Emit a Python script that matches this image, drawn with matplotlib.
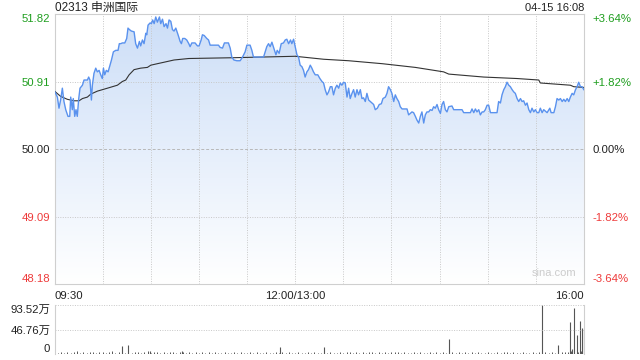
import numpy as np
import matplotlib
matplotlib.use("Agg")
import matplotlib.pyplot as plt
from matplotlib.patches import Polygon

plt.rcParams['font.family'] = ['Liberation Sans', 'Noto Sans CJK SC', 'DejaVu Sans']

# ---- data ----
title = "02313 申洲国际"
stamp = "04-15 16:08"
prev_close = 50.00
price_ticks = [48.18, 49.09, 50.00, 50.91, 51.82]
vol_ticks = [0, 46.76, 93.52]
time_ticks = [0, 150, 330]
time_labels = ["09:30", "12:00/13:00", "16:00"]

# minutes since 09:30 (lunch break removed) and last price
minutes = [
    0.0, 1.8, 2.8, 3.8, 4.9, 5.9, 7.0, 8.4, 9.5, 10.1, 11.1, 11.7, 12.6, 13.4, 14.2,
    15.1, 15.9, 17.4, 18.4, 20.5, 21.3, 22.1, 23.0, 23.6, 24.6, 25.7, 26.7, 27.8,
    28.8, 29.8, 30.5, 31.3, 32.3, 33.4, 34.6, 35.5, 36.7, 38.2, 39.6, 40.4, 41.3,
    42.3, 43.8, 45.0, 45.8, 46.7, 47.9, 49.6, 50.6, 51.7, 52.9, 53.7, 54.8, 55.8,
    56.9, 57.5, 58.3, 59.6, 60.4, 61.2, 62.1, 63.1, 64.1, 65.4, 66.2, 67.3, 68.3,
    69.5, 70.4, 71.4, 72.5, 73.5, 74.5, 75.6, 77.0, 78.3, 79.1, 79.9, 81.2, 82.4,
    83.7, 84.5, 85.6, 87.6, 89.1, 90.1, 91.4, 92.2, 93.3, 94.9, 96.0, 97.0, 99.1,
    102.2, 103.2, 104.7, 105.9, 108.4, 109.5, 110.5, 111.8, 113.6, 115.7, 117.2,
    118.8, 119.9, 121.9, 123.0, 124.0, 127.1, 130.3, 131.3, 132.3, 133.4, 134.4,
    135.5, 136.7, 138.0, 138.8, 140.0, 141.3, 142.7, 143.8, 144.8, 145.9, 147.1,
    147.9, 149.0, 150.0, 151.1, 152.1, 153.1, 154.2, 155.2, 156.2, 157.3, 158.3,
    159.4, 160.4, 161.4, 162.5, 164.1, 165.4, 166.7, 167.7, 168.7, 169.8, 170.8,
    171.9, 172.9, 173.9, 175.0, 176.0, 177.1, 178.1, 179.1, 180.2, 181.2, 182.3,
    183.3, 184.3, 185.4, 186.4, 187.4, 188.5, 189.5, 190.6, 191.6, 192.6, 193.7,
    194.7, 195.8, 196.8, 197.8, 198.9, 199.9, 201.2, 202.4, 203.7, 204.7, 206.2,
    207.2, 208.2, 209.3, 210.3, 211.4, 212.4, 213.4, 214.5, 215.5, 216.6, 218.6,
    219.7, 220.7, 221.8, 222.8, 223.8, 224.9, 225.9, 227.0, 228.0, 229.0, 230.1,
    231.1, 232.1, 233.2, 234.2, 235.3, 236.3, 237.3, 238.4, 239.4, 240.5, 241.5,
    242.5, 243.6, 244.6, 245.7, 247.7, 248.8, 250.9, 254.0, 255.0, 259.2, 260.2,
    261.3, 262.3, 263.3, 264.4, 265.4, 266.5, 267.5, 268.5, 269.6, 270.6, 271.7,
    273.7, 275.8, 276.8, 277.9, 278.9, 280.0, 281.0, 282.0, 283.1, 284.1, 285.2,
    286.2, 287.2, 288.3, 289.3, 290.4, 291.4, 292.4, 293.5, 294.5, 295.6, 296.6,
    297.6, 298.7, 299.7, 300.8, 301.8, 302.8, 303.9, 304.9, 307.0, 308.7, 309.5,
    311.2, 312.2, 313.2, 314.3, 315.3, 316.4, 317.4, 318.4, 319.5, 320.5, 321.5,
    322.6, 323.6, 324.7, 325.7, 326.7, 327.8, 328.8, 329.9,
]
prices = [
    50.78, 50.70, 50.55, 50.66, 50.82, 50.64, 50.53, 50.44, 50.44, 50.70, 50.53,
    50.68, 50.44, 50.53, 50.44, 50.68, 50.82, 50.86, 50.93, 50.93, 50.97, 50.93,
    50.66, 50.86, 51.02, 51.09, 51.04, 51.06, 51.00, 50.95, 51.09, 51.00, 51.06,
    51.04, 51.13, 51.20, 51.31, 51.33, 51.33, 51.42, 51.42, 51.43, 51.43, 51.49,
    51.63, 51.61, 51.59, 51.58, 51.42, 51.36, 51.45, 51.39, 51.47, 51.42, 51.56,
    51.54, 51.67, 51.70, 51.69, 51.74, 51.69, 51.78, 51.71, 51.78, 51.69, 51.75,
    51.65, 51.69, 51.63, 51.74, 51.72, 51.61, 51.59, 51.63, 51.54, 51.45, 51.42,
    51.49, 51.49, 51.47, 51.42, 51.38, 51.43, 51.43, 51.39, 51.39, 51.47, 51.54,
    51.53, 51.49, 51.47, 51.40, 51.40, 51.40, 51.37, 51.36, 51.43, 51.43, 51.36,
    51.24, 51.20, 51.19, 51.19, 51.24, 51.31, 51.40, 51.40, 51.33, 51.24, 51.24,
    51.24, 51.31, 51.38, 51.42, 51.38, 51.44, 51.36, 51.27, 51.33, 51.29, 51.42,
    51.43, 51.47, 51.48, 51.42, 51.47, 51.42, 51.48, 51.38, 51.27, 51.24, 51.13,
    51.11, 51.06, 50.97, 51.04, 51.07, 51.13, 51.09, 51.04, 51.00, 51.00, 50.95,
    50.91, 50.89, 50.80, 50.73, 50.77, 50.84, 50.84, 50.73, 50.82, 50.86, 50.82,
    50.89, 50.86, 50.90, 50.89, 50.70, 50.82, 50.68, 50.75, 50.80, 50.70, 50.80,
    50.73, 50.80, 50.68, 50.69, 50.64, 50.75, 50.66, 50.64, 50.62, 50.60, 50.53,
    50.55, 50.60, 50.61, 50.68, 50.70, 50.75, 50.84, 50.80, 50.75, 50.64, 50.73,
    50.68, 50.64, 50.57, 50.54, 50.54, 50.54, 50.46, 50.48, 50.50, 50.49, 50.44,
    50.39, 50.35, 50.44, 50.50, 50.35, 50.46, 50.50, 50.50, 50.53, 50.52, 50.57,
    50.55, 50.60, 50.53, 50.48, 50.60, 50.64, 50.53, 50.50, 50.57, 50.58, 50.53,
    50.53, 50.53, 50.49, 50.49, 50.54, 50.49, 50.54, 50.50, 50.53, 50.46, 50.50,
    50.50, 50.53, 50.59, 50.59, 50.49, 50.49, 50.49, 50.64, 50.62, 50.73, 50.80,
    50.84, 50.90, 50.86, 50.84, 50.80, 50.77, 50.75, 50.68, 50.64, 50.68, 50.64,
    50.65, 50.59, 50.62, 50.53, 50.49, 50.55, 50.50, 50.53, 50.49, 50.49, 50.55,
    50.49, 50.53, 50.49, 50.55, 50.49, 50.49, 50.57, 50.68, 50.66, 50.68, 50.64,
    50.67, 50.64, 50.68, 50.64, 50.70, 50.75, 50.73, 50.80, 50.84, 50.90, 50.84,
    50.84, 50.80,
]

# average price line
avg_minutes = [0, 3.8, 8.0, 12.2, 15.3, 17.4, 20.5, 22.6, 26.7, 33.0, 39.2, 42.3,
               44.4, 46.5, 49.6, 53.7, 57.9, 60.0, 64.1, 68.3, 74.5, 83.7, 110, 130,
               150, 167.7, 183.3, 204.3, 224.9, 242.5, 245.7, 267.5, 288.3, 301.8,
               302.8, 321.5, 323.6, 329.9]
avg_prices = [50.78, 50.71, 50.67, 50.65, 50.65, 50.68, 50.70, 50.74, 50.78, 50.82,
              50.86, 50.91, 50.93, 51.00, 51.07, 51.09, 51.10, 51.13, 51.15, 51.17,
              51.20, 51.22, 51.23, 51.24, 51.25, 51.21, 51.19, 51.15, 51.10, 51.04,
              51.01, 50.97, 50.95, 50.93, 50.89, 50.86, 50.84, 50.83]

# volume (万股): regular small bars every 2 minutes, plus the big ones
vol_minutes = list(range(0, 331, 2))
vol_small = [
    3, 2, 3, 2, 4, 2, 3, 5, 2, 3, 2, 4, 3, 2, 4, 3, 2, 3, 5, 2, 3, 4, 2, 3, 2,
    4, 3, 2, 3, 5, 2, 4, 3, 2, 3, 2, 4, 3, 2, 3, 4, 2, 3, 2, 3, 2, 4, 2, 3, 2,
    3, 2, 2, 3, 2, 2, 3, 2, 3, 2, 2, 3, 2, 3, 2, 2, 3, 2, 2, 3, 2, 4, 2, 3, 2,
    2, 3, 2, 2, 3, 2, 3, 2, 2, 3, 2, 3, 2, 2, 3, 2, 3, 4, 2, 3, 2, 3, 2, 4, 3,
    2, 3, 2, 3, 2, 3, 4, 3, 2, 3, 2, 2, 3, 2, 3, 2, 2, 3, 2, 4, 2, 3, 2, 2, 3,
    2, 3, 2, 3, 2, 4, 2, 3, 2, 2, 3, 2, 2, 3, 2, 3, 4, 2, 3, 2, 2, 3, 2, 2, 3,
    2, 3, 2, 3, 2, 4, 2, 3, 3, 4, 3, 5, 3, 4, 6, 5,
]
spike_minutes = [41.9, 46.0, 59.6, 79.3, 140.7, 167.7, 245.7, 303.7, 313.7,
                 321.1, 322.6, 323.6, 325.5, 327.4, 328.9, 329.9]
spike_vols = [15, 17, 6, 5, 13, 13, 29, 93.52, 17, 61, 10, 87, 36, 63, 50, 48]

# ---- styling ----
green = "#1f9e1f"
red = "#ee3b3b"
grid_c = "#c8c8c8"
border_c = "#cfcfcf"
line_c = "#5a92ee"

fig = plt.figure(figsize=(6.4, 3.6), dpi=100)
ax = fig.add_axes([54.5 / 640, 1 - 284 / 360, 529.5 / 640, 270 / 360])
axv = fig.add_axes([54.5 / 640, 1 - 354 / 360, 529.5 / 640, 49 / 360])

ax.set_xlim(0, 330)
ax.set_ylim(price_ticks[0], price_ticks[-1])

# gradient fill under the price line
grad = np.linspace(0, 1, 256)[:, None]
top_rgb = np.array([0.80, 0.87, 0.97])
bot_rgb = np.array([1.0, 1.0, 1.0])
img = top_rgb * (1 - grad[..., None]) + bot_rgb * grad[..., None]
img = np.repeat(img, 2, axis=1)
im = ax.imshow(img, extent=[0, 330, price_ticks[0], price_ticks[-1]],
               aspect='auto', origin='upper', zorder=1)
poly_pts = np.column_stack([
    np.concatenate([[minutes[0]], minutes, [minutes[-1]]]),
    np.concatenate([[price_ticks[0]], prices, [price_ticks[0]]]),
])
clip = Polygon(poly_pts, closed=True, transform=ax.transData, facecolor='none',
               edgecolor='none')
ax.add_patch(clip)
im.set_clip_path(clip)

# grid
for t in range(30, 330, 30):
    ax.axvline(t, color=grid_c, lw=0.7, ls=(0, (1, 1.5)), zorder=2)
for p in price_ticks[1:-1]:
    if p == prev_close:
        ax.axhline(p, color="#b8b8b8", lw=0.7, ls=(0, (3, 2)), zorder=2)
    else:
        ax.axhline(p, color=grid_c, lw=0.7, ls=(0, (1, 1.5)), zorder=2)

ax.plot(avg_minutes, avg_prices, color="#333333", lw=0.8, zorder=3)
ax.plot(minutes, prices, color=line_c, lw=1.0, zorder=4)

for s in ax.spines.values():
    s.set_color(border_c)
    s.set_linewidth(0.8)

# left price ticks
ax.set_yticks(price_ticks)
ax.set_yticklabels([f"{p:.2f}" for p in price_ticks])
ax.tick_params(axis='y', length=0, pad=3, labelsize=8.2)
ax.tick_params(axis='x', length=0, pad=5, labelsize=8.2)

def tick_color(p):
    if p > prev_close:
        return green
    if p < prev_close:
        return red
    return "#222222"

ylabels = ax.get_yticklabels()
for lab, p in zip(ylabels, price_ticks):
    lab.set_color(tick_color(p))
ylabels[0].set_va('bottom')
ylabels[-1].set_va('top')

# right percent ticks
axr = ax.twinx()
axr.set_ylim(ax.get_ylim())
axr.set_yticks(price_ticks)
pct_labels = []
for p in price_ticks:
    pct = (p - prev_close) / prev_close * 100
    pct_labels.append("0.00%" if abs(pct) < 1e-9 else f"{pct:+.2f}%")
axr.set_yticklabels(pct_labels)
axr.tick_params(axis='y', length=0, pad=6, labelsize=8.2)
rlabels = axr.get_yticklabels()
for lab, p in zip(rlabels, price_ticks):
    lab.set_color(tick_color(p))
rlabels[0].set_va('bottom')
rlabels[-1].set_va('top')
for s in axr.spines.values():
    s.set_visible(False)

# time ticks
ax.set_xticks(time_ticks)
ax.set_xticklabels(time_labels, color="#222222")
xl = ax.get_xticklabels()
xl[0].set_ha('left')
xl[-1].set_ha('right')

ax.text(0.985, 0.022, "sina.com", transform=ax.transAxes, ha='right', va='bottom',
        fontsize=8, color="#cccccc", zorder=5)

fig.text(55 / 640, 1 - 8 / 360, title, ha='left', va='center', fontsize=8.5,
         color="#222222")
fig.text(584 / 640, 1 - 8 / 360, stamp, ha='right', va='center', fontsize=8,
         color="#222222")

# volume panel
axv.set_xlim(0, 330)
axv.set_ylim(0, vol_ticks[-1])
axv.vlines(vol_minutes, 0, vol_small, color="#555555", lw=0.7)
axv.vlines(spike_minutes, 0, spike_vols, color="#555555", lw=0.8)
axv.axhline(vol_ticks[1], color=grid_c, lw=0.7, ls=(0, (1, 1.5)))
axv.axhline(vol_ticks[2], color=grid_c, lw=0.7, ls=(0, (1, 1.5)))
axv.set_xticks([])
axv.set_yticks(vol_ticks)
axv.set_yticklabels(["0"] + [f"{v:.2f}万" for v in vol_ticks[1:]])
axv.tick_params(axis='y', length=0, pad=3, labelsize=8.2, labelcolor="#222222")
vlabs = axv.get_yticklabels()
vlabs[0].set_va('bottom')
vlabs[-1].set_va('top')
for name, s in axv.spines.items():
    s.set_color(border_c)
    s.set_linewidth(0.8)
    if name in ('top', 'bottom'):
        s.set_visible(False)

fig.savefig("out.png", dpi=100)
